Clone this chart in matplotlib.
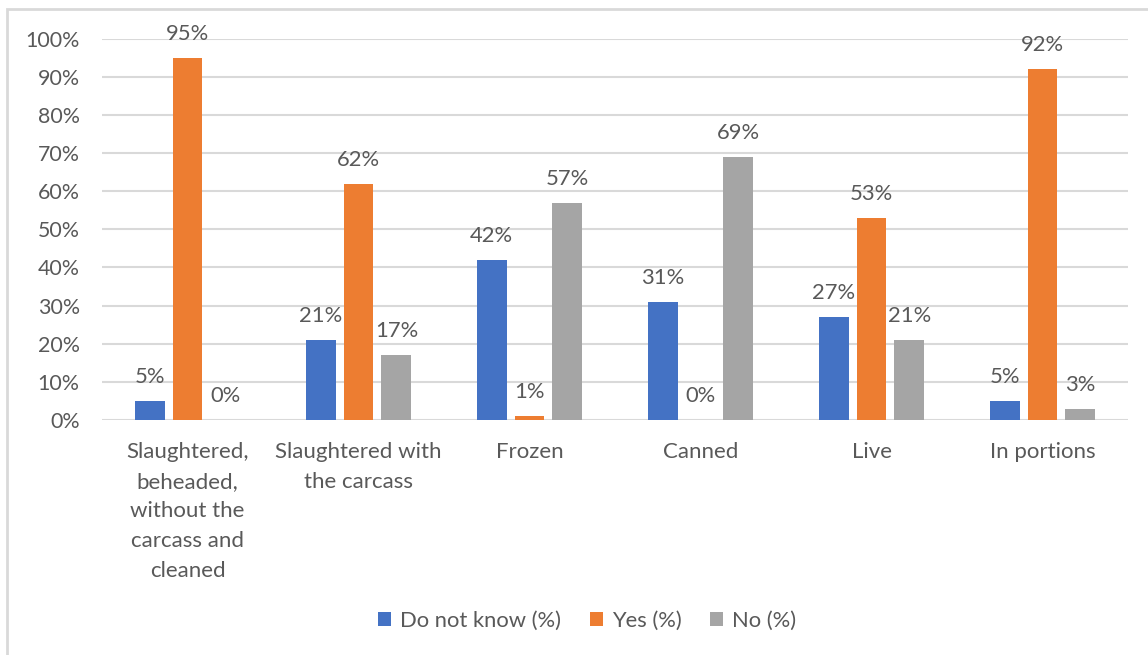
import matplotlib
matplotlib.use("Agg")
import matplotlib.pyplot as plt
from matplotlib.patches import Rectangle
import numpy as np

categories = [
    "Slaughtered,\nbeheaded,\nwithout the\ncarcass and\ncleaned",
    "Slaughtered with\nthe carcass",
    "Frozen",
    "Canned",
    "Live",
    "In portions",
]
series_names = ["Do not know (%)", "Yes (%)", "No (%)"]
do_not_know = [5, 21, 42, 31, 27, 5]
yes = [95, 62, 1, 0, 53, 92]
no = [0, 17, 57, 69, 21, 3]
yticks = [0, 10, 20, 30, 40, 50, 60, 70, 80, 90, 100]

colors = ["#4472C4", "#ED7D31", "#A5A5A5"]
text_color = "#595959"
grid_color = "#D9D9D9"

plt.rcParams["font.family"] = ["Lato", "DejaVu Sans"]

W, H = 1148, 655
fig = plt.figure(figsize=(W / 100, H / 100), dpi=100)
ax = fig.add_axes([102 / W, 1 - 420 / H, (1128 - 102) / W, (420 - 38.7) / H])

x = np.arange(len(categories))
bar_w = 0.175
step = 0.222
for i, (vals, name, col) in enumerate(zip([do_not_know, yes, no], series_names, colors)):
    pos = x + (i - 1) * step
    bars = ax.bar(pos, vals, width=bar_w, color=col, label=name, zorder=3)
    for b, v in zip(bars, vals):
        ax.annotate(f"{v}%", (b.get_x() + b.get_width() / 2, v),
                    xytext=(0, 13), textcoords="offset points",
                    ha="center", va="baseline", fontsize=15.8, color=text_color)

ax.set_xlim(-0.5, len(categories) - 0.5)
ax.set_ylim(0, 100)
ax.set_yticks(yticks)
ax.set_yticklabels([f"{t}%" for t in yticks])
ax.set_xticks(x)
ax.set_xticklabels(categories, linespacing=1.6)
ax.tick_params(axis="y", length=0, pad=16, labelsize=15.4, labelcolor=text_color)
ax.tick_params(axis="x", length=0, pad=16, labelsize=16, labelcolor=text_color)
ax.grid(axis="y", color=grid_color, linewidth=1.5, zorder=0)
for s in ax.spines.values():
    s.set_visible(False)

leg = fig.legend(loc="center", bbox_to_anchor=(587 / W, 1 - 621 / H), ncol=3,
                 frameon=False, fontsize=15.8, handlelength=0.6, handleheight=0.6,
                 columnspacing=1.3, handletextpad=0.4, labelcolor=text_color)

fig.patches.append(Rectangle((7.3 / W, -0.1), 1.2, 1.1 - 9.3 / H,
                             transform=fig.transFigure, fill=False,
                             edgecolor=grid_color, linewidth=2))

fig.savefig("out.png", dpi=100)
